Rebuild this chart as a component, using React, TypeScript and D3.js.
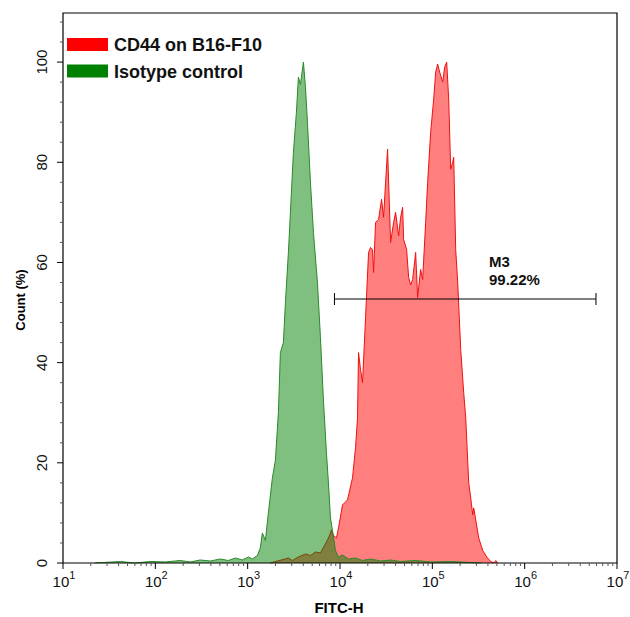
import { useEffect, useRef } from 'react'
import * as d3 from 'd3'

// FITC-H channel values and count (%)
const ISO_FITC = [22, 42, 60, 88, 128, 186, 239, 306, 394, 505, 617, 735, 875, 1017, 1124, 1274, 1372, 1443, 1556, 1676, 1853, 1997, 2151, 2261, 2437, 2563, 2762, 2904, 3129, 3372, 3545, 3727, 3822, 4018, 4225, 4440, 4786, 5157, 5697, 6140, 6617, 7131, 7497, 7882, 8287, 8931, 9624, 10650, 12370, 14720, 17530, 21410, 27490, 35290, 45310, 65910, 95860, 158000, 260600, 334400]
const ISO_COUNT = [0, 0.3, 0, 0.3, 0.2, 0.5, 0.2, 0.6, 0.4, 0.8, 0.5, 1.0, 0.6, 1.2, 0.8, 1.5, 3, 6, 4.5, 10, 17, 20.5, 30, 42, 44, 52, 62, 70, 82, 90, 97, 95.5, 97, 100, 95, 88, 76, 66, 56, 45, 32.5, 22, 16, 9, 6.5, 2.5, 1.2, 1.6, 0.8, 1.0, 0.5, 0.8, 0.4, 0.6, 0.3, 0.5, 0.2, 0.3, 0.1, 0]

const CD44_FITC = [1762, 2762, 3052, 3545, 4224, 4786, 5422, 6142, 6786, 7502, 8087, 8503, 9163, 9632, 10650, 12060, 13660, 14730, 15480, 15880, 16690, 17540, 18910, 20390, 21420, 22520, 23090, 24280, 26160, 28200, 29650, 31170, 32760, 35310, 38060, 40010, 43130, 45340, 47670, 48870, 52670, 55370, 58210, 61200, 65960, 69300, 74710, 78550, 84660, 89000, 95920, 103400, 108700, 114250, 120100, 129470, 136100, 143060, 150400, 158100, 166200, 170400, 179100, 188300, 203000, 218700, 229900, 247800, 260500, 273800, 280700, 295200, 318100, 351600, 388600, 429500, 462900, 486600, 511600]
const CD44_COUNT = [0, 1.0, 0.5, 1.2, 1.8, 1.5, 2.2, 2.0, 3.5, 5, 6.6, 5.5, 5, 7, 11.6, 12.6, 17, 23, 29, 42, 38.6, 36, 49, 62, 63, 62.6, 58, 68, 68.6, 72.6, 69, 76, 82.6, 64, 68, 70, 65.3, 69, 71, 64.6, 62.6, 57, 55.5, 56.6, 62, 53, 58.6, 56.6, 68, 76, 86, 92.6, 98, 99.6, 98, 96, 99, 100, 92.6, 78.6, 80, 81, 62.6, 56, 42.6, 34, 29, 16, 13, 9.6, 11, 8.6, 5, 2.5, 1.2, 0.3, 0, 0.5, 0]

const X_EXPONENTS = [1, 2, 3, 4, 5, 6, 7]
const Y_TICKS = [0, 20, 40, 60, 80, 100]
const LEGEND = ['CD44 on B16-F10', 'Isotype control']
const MARKER_RANGE = [8710, 5920000]
const MARKER_NAME = 'M3'
const MARKER_PCT = '99.22%'

const W = 630, H = 617
const FONT = 'Liberation Sans, Arial, sans-serif'

export default function App() {
  const svgRef = useRef<SVGSVGElement>(null)

  useEffect(() => {
    const svg = d3.select(svgRef.current)
    svg.selectAll('*').remove()

    const left = 63, right = 617, top = 13, bottom = 563
    const x = d3.scaleLog().domain([10, 1e7]).range([left, right])
    const y = d3.scaleLinear().domain([0, 110]).range([bottom, 12])

    svg.append('rect').attr('width', W).attr('height', H).attr('fill', '#fff')

    const area = d3.area<[number, number]>().x(d => x(d[0])).y0(bottom).y1(d => y(d[1]))
    const line = d3.line<[number, number]>().x(d => x(d[0])).y(d => y(d[1]))

    const series = [
      { fitc: CD44_FITC, count: CD44_COUNT, fill: '#ff0000', stroke: '#f01010' },
      { fitc: ISO_FITC, count: ISO_COUNT, fill: '#008000', stroke: '#2a8a2a' },
    ]
    series.forEach(s => {
      const pts = s.fitc.map((v, i) => [v, s.count[i]] as [number, number])
      svg.append('path').attr('d', area(pts)).attr('fill', s.fill).attr('fill-opacity', 0.5)
      svg.append('path').attr('d', line(pts)).attr('fill', 'none').attr('stroke', s.stroke).attr('stroke-width', 1)
    })

    // frame
    svg.append('path')
      .attr('d', `M${left},${bottom}V${top}H${right}V${bottom}Z`)
      .attr('fill', 'none').attr('stroke', '#000').attr('stroke-width', 1.2)

    // x ticks (log decades + minors)
    const gx = svg.append('g')
    X_EXPONENTS.forEach(e => {
      const v = Math.pow(10, e)
      gx.append('line').attr('x1', x(v)).attr('x2', x(v)).attr('y1', bottom).attr('y2', bottom + 6)
        .attr('stroke', '#000')
      if (e < 7) {
        for (let m = 2; m < 10; m++) {
          const xm = x(m * v)
          gx.append('line').attr('x1', xm).attr('x2', xm).attr('y1', bottom).attr('y2', bottom + 3)
            .attr('stroke', '#555')
        }
      }
      const t = gx.append('text').attr('x', x(v) + 1).attr('y', 587).attr('text-anchor', 'middle')
        .attr('font-family', FONT).attr('font-size', 15).attr('fill', '#111')
      t.append('tspan').text('10')
      t.append('tspan').attr('dy', -8).attr('font-size', 11).text(String(e))
    })

    // y ticks
    const gy = svg.append('g')
    d3.range(0, 109, 4).forEach(v => {
      if (v % 20 === 0) return
      gy.append('line').attr('x1', left - 3).attr('x2', left).attr('y1', y(v)).attr('y2', y(v)).attr('stroke', '#555')
    })
    Y_TICKS.forEach(v => {
      gy.append('line').attr('x1', left - 6).attr('x2', left).attr('y1', y(v)).attr('y2', y(v)).attr('stroke', '#000')
      gy.append('text').attr('transform', `translate(47,${y(v)}) rotate(-90)`).attr('text-anchor', 'middle')
        .attr('font-family', FONT).attr('font-size', 15).attr('fill', '#111').text(v)
    })

    // axis titles
    svg.append('text').attr('x', 339).attr('y', 613).attr('text-anchor', 'middle')
      .attr('font-family', FONT).attr('font-size', 15).attr('font-weight', 'bold').text('FITC-H')
    svg.append('text').attr('transform', 'translate(25,300) rotate(-90)').attr('text-anchor', 'middle')
      .attr('font-family', FONT).attr('font-size', 13).attr('font-weight', 'bold').text('Count (%)')

    // legend
    const colors = ['#ff0000', '#008000']
    LEGEND.forEach((name, i) => {
      const yy = 38 + i * 26.5
      svg.append('rect').attr('x', 67).attr('y', yy).attr('width', 41).attr('height', 13).attr('fill', colors[i])
      svg.append('text').attr('x', 114).attr('y', yy + 13).attr('font-family', FONT).attr('font-size', 18)
        .attr('font-weight', 'bold').attr('fill', '#111').text(name)
    })

    // marker M3
    const my = 299
    const [m0, m1] = MARKER_RANGE
    svg.append('line').attr('x1', x(m0)).attr('x2', x(m1)).attr('y1', my).attr('y2', my).attr('stroke', '#000')
    ;[m0, m1].forEach(v => {
      svg.append('line').attr('x1', x(v)).attr('x2', x(v)).attr('y1', my - 6).attr('y2', my + 6).attr('stroke', '#000')
    })
    svg.append('text').attr('x', 489).attr('y', 267).attr('font-family', FONT).attr('font-size', 15)
      .attr('font-weight', 'bold').attr('fill', '#111').text(MARKER_NAME)
    svg.append('text').attr('x', 489).attr('y', 285).attr('font-family', FONT).attr('font-size', 15)
      .attr('font-weight', 'bold').attr('fill', '#111').text(MARKER_PCT)
  }, [])

  return (
    <div style={{ position: 'absolute', left: 0, top: 0 }}>
      <svg ref={svgRef} width={W} height={H} />
    </div>
  )
}
